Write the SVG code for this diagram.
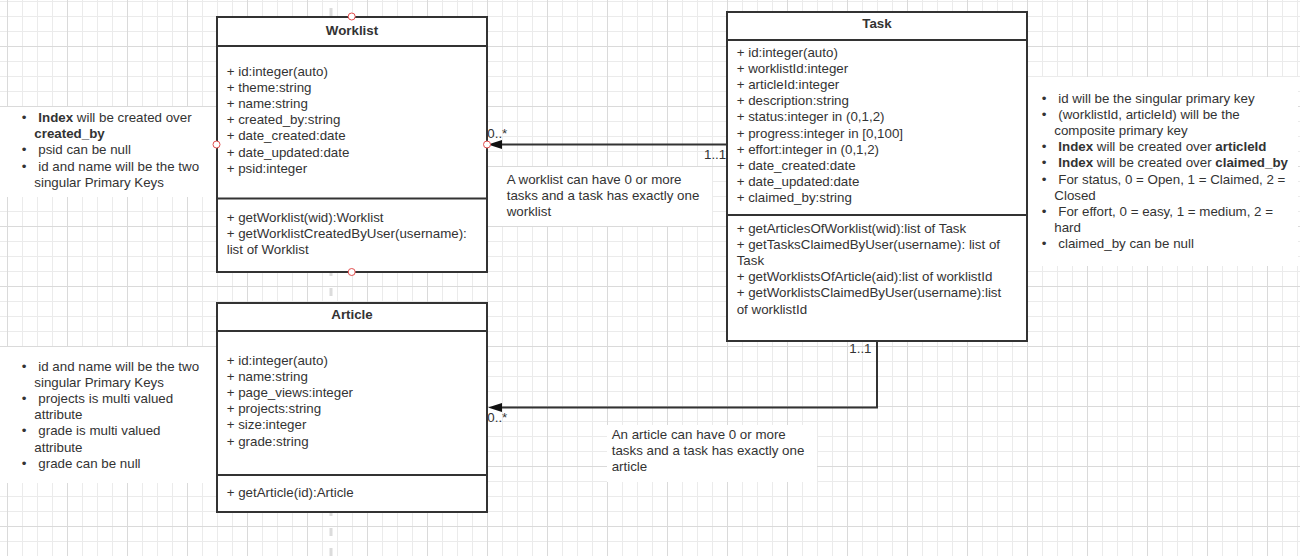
<svg xmlns="http://www.w3.org/2000/svg" width="1300" height="556" viewBox="0 0 1300 556">
  <defs>
    <style>
      .t{font-family:"Liberation Sans",Arial,sans-serif;font-size:13.33px;fill:#333}
      .b{font-weight:bold}
      .ttl{font-weight:bold;text-anchor:middle}
      .box{fill:#fff;stroke:#333;stroke-width:2}
      .sep{stroke:#333;stroke-width:2}
      .note{fill:#fff}
      .port{fill:#fff;stroke:#e34d4d;stroke-width:1}
      .edge{fill:none;stroke:#333;stroke-width:2}
      .head{fill:#111}
      .bul{text-anchor:middle}
    </style>
    <pattern id="grid" x="7" y="1" width="60" height="60" patternUnits="userSpaceOnUse">
      <rect x="15" y="0" width="1" height="60" fill="#ebebeb"/>
      <rect x="30" y="0" width="1" height="60" fill="#ebebeb"/>
      <rect x="45" y="0" width="1" height="60" fill="#ebebeb"/>
      <rect x="0" y="0" width="60" height="1" fill="#ebebeb"/>
      <rect x="0" y="15" width="60" height="1" fill="#ebebeb"/>
      <rect x="0" y="30" width="60" height="1" fill="#ebebeb"/>
      <rect x="0" y="45" width="60" height="1" fill="#dadada"/>
      <rect x="0" y="0" width="1" height="60" fill="#dadada"/>
    </pattern>
  </defs>

  <!-- canvas -->
  <rect width="1300" height="556" fill="#fff"/>
  <rect width="1300" height="556" fill="url(#grid)"/>
  <!-- page break marker -->
  <line x1="331" y1="8" x2="331" y2="556" stroke="#dcdcdc" stroke-width="3" stroke-dasharray="8 12"/>

  <!-- note: Worklist -->
  <g id="note-worklist">
    <rect class="note" x="0" y="107" width="217" height="90"/>
    <text class="t bul" x="24" y="122">•</text>
    <text class="t" x="38.3" y="122"><tspan class="b">Index</tspan> will be created over</text>
    <text class="t b" x="34.3" y="138.2">created_by</text>
    <text class="t bul" x="24" y="154.4">•</text>
    <text class="t" x="38.3" y="154.4">psid can be null</text>
    <text class="t bul" x="24" y="170.6">•</text>
    <text class="t" x="38.3" y="170.6">id and name will be the two</text>
    <text class="t" x="34.3" y="186.8">singular Primary Keys</text>
  </g>

  <!-- note: Article -->
  <g id="note-article">
    <rect class="note" x="0" y="347" width="217" height="136"/>
    <text class="t bul" x="24" y="370.5">•</text>
    <text class="t" x="38.3" y="370.5">id and name will be the two</text>
    <text class="t" x="34.3" y="386.7">singular Primary Keys</text>
    <text class="t bul" x="24" y="402.9">•</text>
    <text class="t" x="38.3" y="402.9">projects is multi valued</text>
    <text class="t" x="34.3" y="419.1">attribute</text>
    <text class="t bul" x="24" y="435.3">•</text>
    <text class="t" x="38.3" y="435.3">grade is multi valued</text>
    <text class="t" x="34.3" y="451.5">attribute</text>
    <text class="t bul" x="24" y="467.7">•</text>
    <text class="t" x="38.3" y="467.7">grade can be null</text>
  </g>

  <!-- note: Task -->
  <g id="note-task">
    <rect class="note" x="1027" y="77" width="271" height="189"/>
    <text class="t bul" x="1044" y="102.5">•</text>
    <text class="t" x="1058.3" y="102.5">id will be the singular primary key</text>
    <text class="t bul" x="1044" y="118.7">•</text>
    <text class="t" x="1058.3" y="118.7">(worklistId, articleId) will be the</text>
    <text class="t" x="1054.3" y="134.9">composite primary key</text>
    <text class="t bul" x="1044" y="151.1">•</text>
    <text class="t" x="1058.3" y="151.1"><tspan class="b">Index</tspan> will be created over <tspan class="b">articleId</tspan></text>
    <text class="t bul" x="1044" y="167.3">•</text>
    <text class="t" x="1058.3" y="167.3"><tspan class="b">Index</tspan> will be created over <tspan class="b">claimed_by</tspan></text>
    <text class="t bul" x="1044" y="183.5">•</text>
    <text class="t" x="1058.3" y="183.5">For status, 0 = Open, 1 = Claimed, 2 =</text>
    <text class="t" x="1054.3" y="199.7">Closed</text>
    <text class="t bul" x="1044" y="215.9">•</text>
    <text class="t" x="1058.3" y="215.9">For effort, 0 = easy, 1 = medium, 2 =</text>
    <text class="t" x="1054.3" y="232.1">hard</text>
    <text class="t bul" x="1044" y="248.3">•</text>
    <text class="t" x="1058.3" y="248.3">claimed_by can be null</text>
  </g>

  <!-- class: Worklist -->
  <g id="worklist">
    <rect class="box" x="217" y="17" width="270" height="255"/>
    <line class="sep" x1="217" y1="46" x2="487" y2="46"/>
    <line class="sep" x1="217" y1="198.5" x2="487" y2="198.5"/>
    <text class="t ttl" x="352" y="34.5">Worklist</text>
    <text class="t" x="226.7" y="75.5">+ id:integer(auto)</text>
    <text class="t" x="226.7" y="91.7">+ theme:string</text>
    <text class="t" x="226.7" y="107.9">+ name:string</text>
    <text class="t" x="226.7" y="124.1">+ created_by:string</text>
    <text class="t" x="226.7" y="140.3">+ date_created:date</text>
    <text class="t" x="226.7" y="156.5">+ date_updated:date</text>
    <text class="t" x="226.7" y="172.7">+ psid:integer</text>
    <text class="t" x="226.7" y="221.5">+ getWorklist(wid):Worklist</text>
    <text class="t" x="226.7" y="237.7">+ getWorklistCreatedByUser(username):</text>
    <text class="t" x="226.7" y="253.9">list of Worklist</text>
  </g>

  <!-- class: Task -->
  <g id="task">
    <rect class="box" x="727" y="12" width="300" height="329"/>
    <line class="sep" x1="727" y1="40" x2="1027" y2="40"/>
    <line class="sep" x1="727" y1="215" x2="1027" y2="215"/>
    <text class="t ttl" x="877" y="28">Task</text>
    <text class="t" x="736.7" y="56.5">+ id:integer(auto)</text>
    <text class="t" x="736.7" y="72.7">+ worklistId:integer</text>
    <text class="t" x="736.7" y="88.9">+ articleId:integer</text>
    <text class="t" x="736.7" y="105.1">+ description:string</text>
    <text class="t" x="736.7" y="121.3">+ status:integer in (0,1,2)</text>
    <text class="t" x="736.7" y="137.5">+ progress:integer in [0,100]</text>
    <text class="t" x="736.7" y="153.7">+ effort:integer in (0,1,2)</text>
    <text class="t" x="736.7" y="169.9">+ date_created:date</text>
    <text class="t" x="736.7" y="186.1">+ date_updated:date</text>
    <text class="t" x="736.7" y="202.3">+ claimed_by:string</text>
    <text class="t" x="736.7" y="232.5">+ getArticlesOfWorklist(wid):list of Task</text>
    <text class="t" x="736.7" y="248.7">+ getTasksClaimedByUser(username): list of</text>
    <text class="t" x="736.7" y="264.9">Task</text>
    <text class="t" x="736.7" y="281.1">+ getWorklistsOfArticle(aid):list of worklistId</text>
    <text class="t" x="736.7" y="297.3">+ getWorklistsClaimedByUser(username):list</text>
    <text class="t" x="736.7" y="313.5">of worklistId</text>
  </g>

  <!-- class: Article -->
  <g id="article">
    <rect class="box" x="217" y="303" width="270" height="209"/>
    <line class="sep" x1="217" y1="331" x2="487" y2="331"/>
    <line class="sep" x1="217" y1="475" x2="487" y2="475"/>
    <text class="t ttl" x="352" y="319">Article</text>
    <text class="t" x="226.7" y="364.5">+ id:integer(auto)</text>
    <text class="t" x="226.7" y="380.7">+ name:string</text>
    <text class="t" x="226.7" y="396.9">+ page_views:integer</text>
    <text class="t" x="226.7" y="413.1">+ projects:string</text>
    <text class="t" x="226.7" y="429.3">+ size:integer</text>
    <text class="t" x="226.7" y="445.5">+ grade:string</text>
    <text class="t" x="226.7" y="496.5">+ getArticle(id):Article</text>
  </g>

  <!-- associations -->
  <g id="connectors">
    <g id="task-worklist">
      <line class="edge" x1="727" y1="144.5" x2="500" y2="144.5"/>
      <polygon class="head" points="488,144.5 502,140 502,149"/>
      <text class="t" x="487.3" y="137.5">0..*</text>
      <text class="t" x="704" y="159">1..1</text>
      <rect class="note" x="488" y="167" width="224" height="59"/>
      <text class="t" x="506.7" y="184">A worklist can have 0 or more</text>
      <text class="t" x="506.7" y="200.2">tasks and a task has exactly one</text>
      <text class="t" x="506.7" y="216.4">worklist</text>
    </g>
    <g id="task-article">
      <path class="edge" d="M877 341 V407.5 H500"/>
      <polygon class="head" points="488,407.5 502,403 502,412"/>
      <text class="t" x="849.3" y="353">1..1</text>
      <text class="t" x="487.3" y="422">0..*</text>
      <rect class="note" x="607" y="425" width="210" height="57"/>
      <text class="t" x="611.7" y="439">An article can have 0 or more</text>
      <text class="t" x="611.7" y="455.2">tasks and a task has exactly one</text>
      <text class="t" x="611.7" y="471.4">article</text>
    </g>
  </g>

  <!-- connection points on Worklist -->
  <g id="worklist-ports">
    <circle class="port" cx="351.7" cy="16.5" r="3.5"/>
    <circle class="port" cx="351.7" cy="272" r="3.5"/>
    <circle class="port" cx="216.5" cy="144.5" r="3.5"/>
    <circle class="port" cx="487" cy="144.5" r="3.5"/>
  </g>
</svg>
